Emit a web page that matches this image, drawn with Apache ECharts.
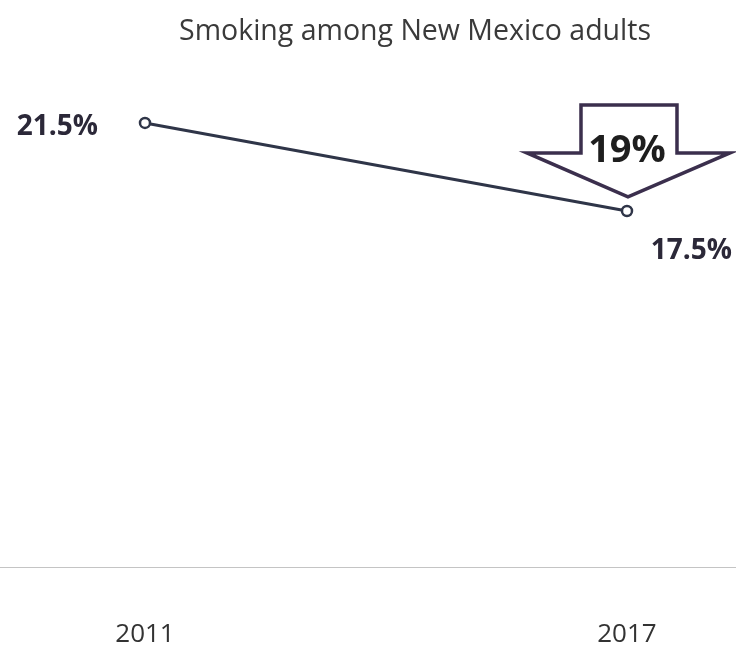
<!DOCTYPE html>
<html><head><meta charset="utf-8">
<script src="https://cdn.jsdelivr.net/npm/echarts@6/dist/echarts.min.js"></script>
<style>html,body{margin:0;padding:0;background:#fff}#c{width:736px;height:650px}</style>
</head><body><div id="c"></div>
<script>
const title = 'Smoking among New Mexico adults';
const years = [2011, 2017];
const smokingRate = [21.5, 17.5];
const changeLabel = '19%';

const chart = echarts.init(document.getElementById('c'));
const font = '"Open Sans", "Noto Sans", sans-serif';
chart.setOption({
  backgroundColor: '#fff',
  animation: false,
  title: {text: title, left: 174, top: 12,
    textStyle: {fontFamily: font, fontSize: 28.5, fontWeight: 'normal', color: '#3a3a3a'}},
  grid: {left: 0, right: 0, top: 60, bottom: 83},
  xAxis: {type: 'value', min: 2009.195, max: 2018.357,
    splitLine: {show: false},
    axisLine: {show: true, lineStyle: {color: '#c4c4c4', width: 1}},
    axisTick: {show: false},
    axisLabel: {customValues: years, formatter: v => String(v), margin: 55,
      fontFamily: font, fontSize: 26, color: '#333'}},
  yAxis: {type: 'value', min: 1.32, max: 24.36, show: false, splitLine: {show: false}},
  series: [{
    type: 'line',
    data: years.map((y, i) => [y, smokingRate[i]]),
    symbol: 'circle', symbolSize: 10,
    itemStyle: {color: '#fff', borderColor: '#2f3548', borderWidth: 2.5},
    lineStyle: {color: '#2f3548', width: 3},
    label: {show: true, formatter: p => p.value[1] + '%',
      fontFamily: font, fontSize: 28, fontWeight: 'bold', color: '#2b2838'},
    labelLayout: function (p) {
      const cx = p.rect.x + p.rect.width / 2, cy = p.rect.y + p.rect.height / 2;
      if (p.dataIndex === 0) return {x: cx - 47, y: cy + 4, align: 'right', verticalAlign: 'middle'};
      return {x: cx + 105, y: cy + 40, align: 'right', verticalAlign: 'middle'};
    }
  }]
});

const pt = chart.convertToPixel({gridIndex: 0}, [years[1], smokingRate[1]]);
const px = pt[0], py = pt[1];
chart.setOption({
  graphic: [{
    type: 'polygon', z: 100,
    shape: {points: [
      [px - 46, py - 106], [px + 50, py - 106], [px + 50, py - 58],
      [px + 103, py - 58], [px + 1, py - 14], [px - 100, py - 58],
      [px - 46, py - 58]
    ]},
    style: {fill: '#fff', stroke: '#3b2f4d', lineWidth: 3.5, lineJoin: 'miter'}
  }, {
    type: 'text', z: 101, x: px, y: py - 60,
    style: {text: changeLabel, fontFamily: font, fontSize: 38, fontWeight: 'bold',
      fill: '#1e1e1e', align: 'center', verticalAlign: 'middle'}
  }]
});
</script></body></html>
